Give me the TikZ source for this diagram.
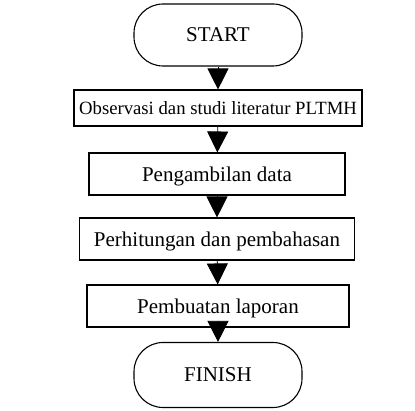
\documentclass[tikz,border=0pt]{standalone}
\usepackage{fontspec}
\setmainfont{Liberation Serif}
\usetikzlibrary{arrows.meta,positioning}

\begin{document}
\begin{tikzpicture}[x=1pt,y=-1pt,line width=1.1pt,
  terminal/.style={draw,rounded corners=29pt,minimum width=168pt,minimum height=62pt,font=\fontsize{21}{25}\selectfont},
  stepbox/.style={draw,minimum height=40pt,inner sep=0pt,text depth=0pt,font=\fontsize{21}{25}\selectfont},
  arr/.style={-{Triangle[length=21pt,width=21pt]},line width=0.8pt}]
\useasboundingbox (0,0) rectangle (415,411);
% start and finish
\node[terminal] (start) at (218,35) {START};
\node[terminal,minimum height=65pt] (finish) at (218,375) {FINISH};
% process steps
\node[stepbox,minimum width=288pt,minimum height=36pt,font=\fontsize{18.7}{22}\selectfont] (obs) at (218,108) {Observasi dan studi literatur PLTMH};
\node[stepbox,minimum width=256pt,minimum height=42pt] (data) at (217,174) {Pengambilan data};
\node[stepbox,minimum width=275pt,minimum height=42pt] (hitung) at (217,239) {Perhitungan dan pembahasan};
\node[stepbox,minimum width=262pt,minimum height=42pt] (lapor) at (218,306) {Pembuatan laporan};
% arrows
\draw[arr] (start) -- (obs);
\draw[arr] (obs) -- (data);
\draw[arr] (data) -- (hitung);
\draw[arr] (hitung) -- (lapor);
\draw[arr] (lapor) -- (finish);
\end{tikzpicture}
\end{document}
